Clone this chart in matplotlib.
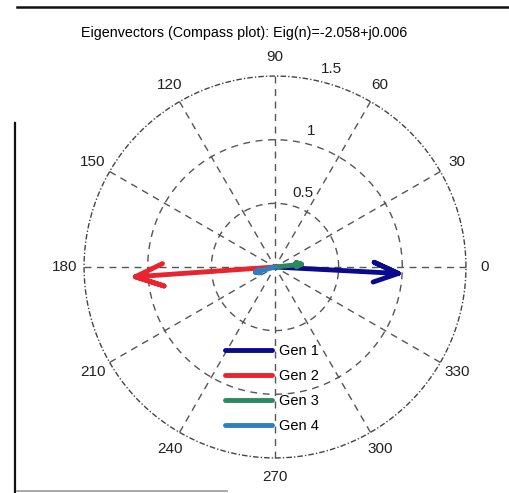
import numpy as np
import matplotlib
matplotlib.use("Agg")
import matplotlib.pyplot as plt
from matplotlib.lines import Line2D

# Eigenvector components per generator (magnitude, angle in degrees)
gens = ["Gen 1", "Gen 2", "Gen 3", "Gen 4"]
magnitudes = [0.97, 1.10, 0.21, 0.16]
angles_deg = [-3.0, 184.0, 6.0, 195.0]
colors = ["#0a0a8c", "#e8242e", "#2a8a5e", "#2f7fc0"]

r_ticks = [0.5, 1.0, 1.5]
r_tick_labels = ["0.5", "1", "1.5"]
theta_ticks = [0, 30, 60, 90, 120, 150, 180, 210, 240, 270, 300, 330]
title = "Eigenvectors (Compass plot): Eig(n)=-2.058+j0.006"

W, H = 509, 493
fig = plt.figure(figsize=(W / 100, H / 100), dpi=100)
fig.patch.set_facecolor("white")
plt.rcParams["font.family"] = ["Liberation Sans", "DejaVu Sans"]

# Cartesian axes spanning the figure, with equal scaling
cx, cy, scale = 275.0, 267.0, 127.3   # pixel centre and pixels per unit
ax = fig.add_axes([0, 0, 1, 1])
ax.set_xlim(-cx / scale, (W - cx) / scale)
ax.set_ylim(-(H - cy) / scale, cy / scale)
ax.axis("off")

rmax = max(r_ticks)
grid_kw = dict(color="#555555", lw=1.0, ls=(0, (5, 4)), zorder=1)

# range circles
t = np.linspace(0, 2 * np.pi, 400)
for r in r_ticks:
    if r == rmax:
        ax.plot(r * np.cos(t), r * np.sin(t), color="#444444", lw=1.0,
                ls=(0, (4, 1.5, 1, 1.5)), zorder=1)
    else:
        ax.plot(r * np.cos(t), r * np.sin(t), **grid_kw)

# spokes
for a in theta_ticks[:6]:
    th = np.deg2rad(a)
    ax.plot([-rmax * np.cos(th), rmax * np.cos(th)],
            [-rmax * np.sin(th), rmax * np.sin(th)], **grid_kw)

# angle labels
for a in theta_ticks:
    th = np.deg2rad(a)
    ax.text(1.1 * rmax * np.cos(th), 1.1 * rmax * np.sin(th), str(a),
            ha="center", va="center", fontsize=11, color="#222222")

# range labels
th = np.deg2rad(77)
for r, lab in zip(r_ticks, r_tick_labels):
    ax.text((r + 0.1) * np.cos(th), (r + 0.1) * np.sin(th), lab,
            ha="left", va="center", fontsize=11, color="#222222")

# compass arrows: shaft plus two barbs
xx = np.array([0, 1, 0.8, 1, 0.8])
yy = np.array([0, 0, 0.08, 0, -0.08])
handles = []
for name, m, a, c in zip(gens, magnitudes, angles_deg, colors):
    z = m * np.exp(1j * np.deg2rad(a))
    arrow = (xx + 1j * yy) * z
    ln, = ax.plot(arrow.real, arrow.imag, color=c, lw=3.5,
                  solid_capstyle="round", solid_joinstyle="round",
                  zorder=3, label=name)
    handles.append(ln)

leg = ax.legend(handles=handles, loc="center", bbox_to_anchor=(0.535, 0.212),
                frameon=False, fontsize=10.5, handlelength=3.2,
                labelspacing=0.75, handletextpad=0.5)

ax.text((244 - cx) / scale, (cy - 33) / scale, title, ha="center",
        va="center", fontsize=10.3, color="#000000")

# window frame edges
fig.add_artist(Line2D([17 / W, 1], [1 - 7 / H, 1 - 7 / H], color="#111111",
                      lw=1.8, transform=fig.transFigure))
fig.add_artist(Line2D([15 / W, 15 / W], [0, 1 - 123 / H], color="#111111",
                      lw=1.6, transform=fig.transFigure))
fig.add_artist(Line2D([17 / W, 227 / W], [2 / H, 2 / H], color="#999999",
                      lw=1.2, transform=fig.transFigure))

fig.savefig("out.png", dpi=100, facecolor="white")
